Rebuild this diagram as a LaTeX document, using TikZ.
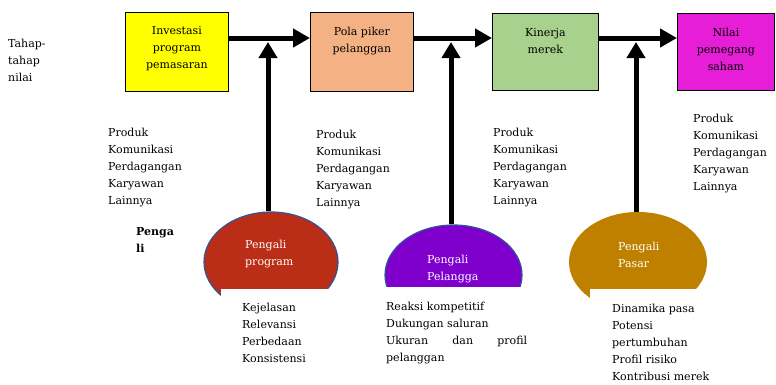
\documentclass[tikz,border=0pt]{standalone}
\usepackage{fontspec}
\setmainfont{DejaVu Serif}
\usetikzlibrary{arrows.meta,shapes.geometric}
\definecolor{cyel}{HTML}{FFFF00}
\definecolor{corg}{HTML}{F4B183}
\definecolor{cgrn}{HTML}{A9D18E}
\definecolor{cmag}{HTML}{E61ED8}
\definecolor{cred}{HTML}{BA2E17}
\definecolor{cpur}{HTML}{7F00CC}
\definecolor{cgold}{HTML}{BF8000}
\definecolor{cblue}{HTML}{2F5597}
\begin{document}
\begin{tikzpicture}[x=1pt,y=-1pt,
  txt/.style={font=\fontsize{11}{17}\selectfont, inner sep=0pt, align=left, anchor=north west},
  btxt/.style={font=\fontsize{11}{17}\selectfont, inner sep=0pt, align=center, anchor=north},
  etxt/.style={font=\fontsize{11}{17}\selectfont, inner sep=0pt, align=left, anchor=north west, text=white},
  box/.style={draw=black, line width=0.8pt, anchor=north west, inner sep=0pt},
  harr/.style={line width=5pt, -{Triangle[length=17pt,width=18pt]}},
  varr/.style={line width=5pt, -{Triangle[length=16pt,width=18pt]}},
  mask/.style={fill=white, draw=none}
]
\useasboundingbox (0,0) rectangle (776,384);
\fill[white] (0,0) rectangle (776,384);

% boxes
\node[box, fill=cyel, minimum width=103pt, minimum height=79pt] (b1) at (125,12) {};
\node[box, fill=corg, minimum width=103pt, minimum height=79pt] (b2) at (310,12) {};
\node[box, fill=cgrn, minimum width=106pt, minimum height=77pt] (b3) at (492,13) {};
\node[box, fill=cmag, minimum width=97pt, minimum height=77pt] (b4) at (677,13) {};

\node[btxt] (t1) at ([yshift=-14pt]b1.north) {Investasi\\program\\pemasaran};
\node[btxt] (t2) at ([yshift=-15pt]b2.north) {Pola piker\\pelanggan};
\node[btxt] (t3) at ([yshift=-15pt]b3.north) {Kinerja\\merek};
\node[btxt] (t4) at ([yshift=-15pt]b4.north) {Nilai\\pemegang\\saham};

% ellipses
\node[ellipse, fill=cred, draw=cblue, line width=1.2pt, minimum width=134pt, minimum height=100pt, inner sep=0pt] (e1) at (271,262) {};
\fill[mask] (221,289) rectangle (345,318);
\node[ellipse, fill=cpur, draw=cblue, line width=1.2pt, minimum width=137pt, minimum height=100pt, inner sep=0pt] (e2) at (453.5,275) {};
\fill[mask] (378,287) rectangle (530,330);
\node[ellipse, fill=cgold, draw=none, minimum width=138pt, minimum height=100pt, inner sep=0pt] (e3) at (638,262) {};
\fill[mask] (590,289) rectangle (712,318);

\node[etxt] (et1) at (245,240) {Pengali\\program};
\node[etxt] (et2) at (427,255) {Pengali\\Pelangga};
\node[etxt] (et3) at (618,242) {Pengali\\Pasar};

% arrow coordinates
\coordinate (h) at (0,38);
\coordinate (v1) at (268,42);
\coordinate (v2) at (451,42);
\coordinate (v3) at (636,42);

\draw[harr] (b1.east |- h) -- (b2.west |- h);
\draw[harr] (b2.east |- h) -- (b3.west |- h);
\draw[harr] (b3.east |- h) -- (b4.west |- h);

\draw[varr] (e1.north -| v1) -- (v1);
\draw[varr] (e2.north -| v2) -- (v2);
\draw[varr] (e3.north -| v3) -- (v3);

% texts
\node[txt] (tahap) at (8,39) {Tahap-\\tahap\\nilai};
\node[txt] (l1) at (108,128) {Produk\\Komunikasi\\Perdagangan\\Karyawan\\Lainnya};
\node[txt] (l2) at (316,130) {Produk\\Komunikasi\\Perdagangan\\Karyawan\\Lainnya};
\node[txt] (l3) at (493,128) {Produk\\Komunikasi\\Perdagangan\\Karyawan\\Lainnya};
\node[txt] (l4) at (693,114) {Produk\\Komunikasi\\Perdagangan\\Karyawan\\Lainnya};
\node[txt, font=\fontsize{11}{17}\selectfont\bfseries] (pg) at (136,227) {Penga\\li};
\node[txt] (k1) at (242,303) {Kejelasan\\Relevansi\\Perbedaan\\Konsistensi};
\node[txt] (k2) at (386,302) {Reaksi kompetitif\\Dukungan saluran\\\makebox[141pt][s]{Ukuran\hfill dan\hfill profil}\\pelanggan};
\node[txt] (k3) at (612,304) {Dinamika pasa\\Potensi\\pertumbuhan\\Profil risiko\\Kontribusi merek};
\end{tikzpicture}
\end{document}
